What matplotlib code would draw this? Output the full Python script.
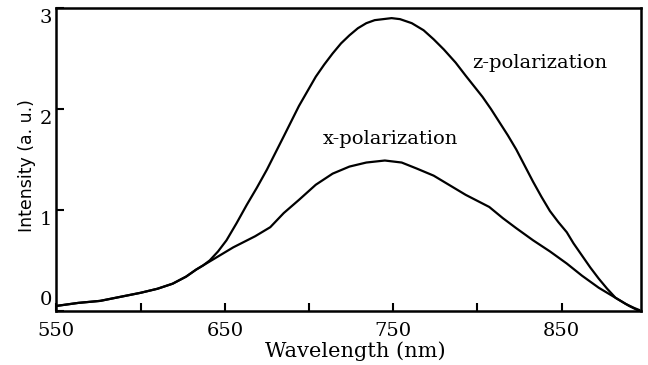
import matplotlib
matplotlib.use("Agg")
import matplotlib.pyplot as plt
from matplotlib.transforms import ScaledTranslation

z_wl = [550, 563, 576, 588, 600, 610, 619, 627, 633, 637, 641, 646, 651, 657,
        663, 669, 675, 685, 694, 704, 709, 714, 719, 724, 729, 734, 739, 744,
        749, 754, 761, 768, 774, 780, 787, 793, 803, 808, 813, 818, 823, 828,
        833, 838, 843, 848, 853, 857, 862, 867, 872, 877, 882, 888, 893, 896]
z_int = [0.05, 0.08, 0.10, 0.14, 0.18, 0.22, 0.27, 0.34, 0.41, 0.45, 0.50, 0.59,
         0.70, 0.87, 1.05, 1.22, 1.40, 1.73, 2.03, 2.32, 2.44, 2.55, 2.65, 2.73,
         2.80, 2.85, 2.88, 2.89, 2.90, 2.89, 2.85, 2.78, 2.69, 2.59, 2.46, 2.33,
         2.12, 2.00, 1.87, 1.74, 1.60, 1.44, 1.28, 1.13, 0.99, 0.88, 0.78, 0.67,
         0.55, 0.43, 0.32, 0.22, 0.13, 0.07, 0.03, 0.01]

x_wl = [550, 563, 576, 588, 600, 610, 619, 627, 633, 637, 645, 655, 668, 677,
        685, 694, 704, 714, 724, 734, 745, 755, 764, 774, 784, 793, 807, 815,
        823, 833, 843, 853, 862, 872, 882, 890, 896]
x_int = [0.05, 0.08, 0.10, 0.14, 0.18, 0.22, 0.27, 0.34, 0.41, 0.45, 0.53, 0.63,
         0.74, 0.83, 0.97, 1.10, 1.25, 1.36, 1.43, 1.47, 1.49, 1.47, 1.41, 1.34,
         1.24, 1.15, 1.03, 0.92, 0.82, 0.70, 0.59, 0.47, 0.35, 0.23, 0.13, 0.05,
         0.0]

xticks = [550, 600, 650, 700, 750, 800, 850]
xticklabels = ['550', '', '650', '', '750', '', '850']
yticks = [0, 1, 2, 3]

serif = ['DejaVu Serif']

fig = plt.figure(figsize=(6.48, 3.65), dpi=100)
ax = fig.add_axes([0.087, 0.148, 0.902, 0.830])

ax.plot(z_wl, z_int, color='black', lw=1.6, solid_joinstyle='round')
ax.plot(x_wl, x_int, color='black', lw=1.6, solid_joinstyle='round')

ax.text(797, 2.46, 'z-polarization', fontsize=14, family=serif, va='center')
ax.text(708, 1.70, 'x-polarization', fontsize=14, family=serif, va='center')

ax.set_xlim(550, 897)
ax.set_ylim(0.02, 3.0)
ax.set_xticks(xticks)
ax.set_xticklabels(xticklabels, family=serif, fontsize=14)
ax.set_yticks(yticks)
ax.set_yticklabels([str(t) for t in yticks], family=serif, fontsize=14)
ax.tick_params(direction='in', length=6, width=1.5)
ax.tick_params(axis='x', pad=8)
ax.tick_params(axis='y', pad=3)

# scanned figure has the y labels slightly off their ticks
for lab, t in zip(ax.get_yticklabels(), yticks):
    dy = 9 / 72 if t == 0 else -6 / 72
    lab.set_transform(lab.get_transform() + ScaledTranslation(0, dy, fig.dpi_scale_trans))

for sp in ax.spines.values():
    sp.set_linewidth(1.8)

ax.set_xlabel('Wavelength (nm)', family=serif, fontsize=15)
ax.xaxis.set_label_coords(0.511, -0.10)
ax.set_ylabel('Intensity (a. u.)', fontsize=12.5)
ax.yaxis.set_label_coords(-0.035, 0.48)

fig.savefig('out.png', dpi=100)
